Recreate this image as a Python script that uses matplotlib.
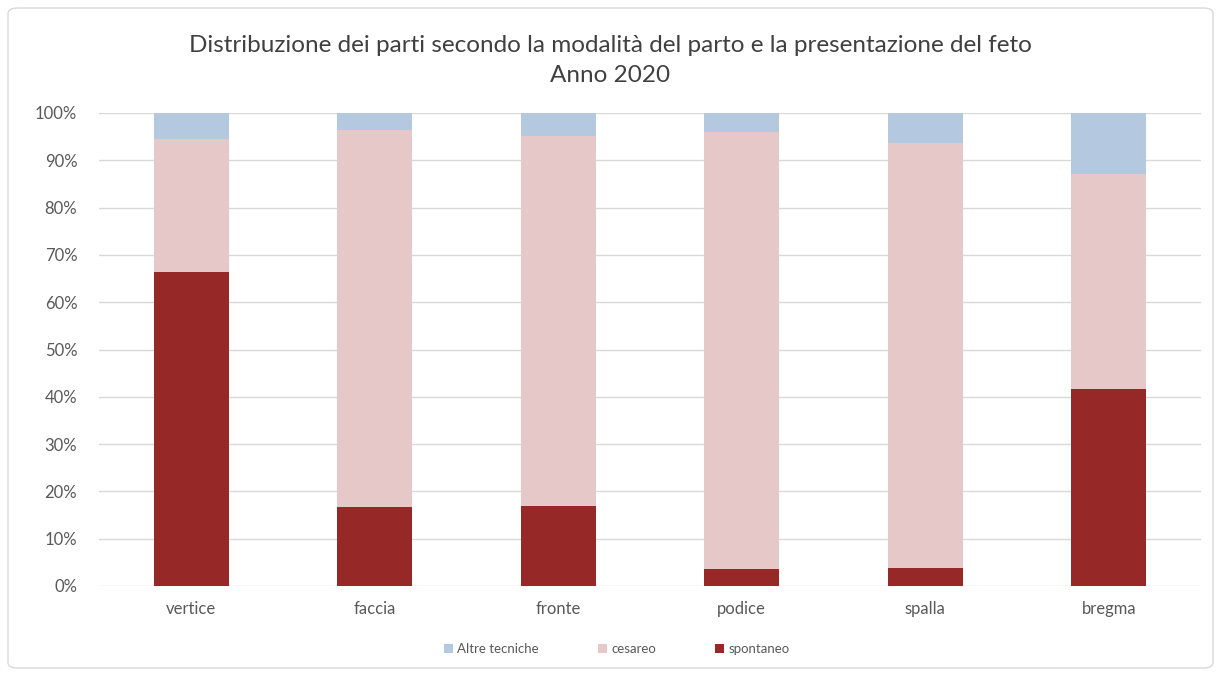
import matplotlib
matplotlib.use("Agg")
import matplotlib.pyplot as plt
from matplotlib.patches import FancyBboxPatch
from matplotlib.ticker import PercentFormatter
import numpy as np

plt.rcParams['font.family'] = ['Lato', 'DejaVu Sans']

categories = ["vertice", "faccia", "fronte", "podice", "spalla", "bregma"]
spontaneo = [66.3, 16.6, 17.0, 3.5, 3.9, 41.6]
cesareo = [28.3, 79.9, 78.1, 92.5, 89.7, 45.6]
altre = [5.4, 3.5, 4.9, 4.0, 6.4, 12.8]

c_spont = "#962828"
c_ces = "#E6C8C9"
c_altre = "#B4C9DF"

fig = plt.figure(figsize=(12.21, 6.76), dpi=100)
ax = fig.add_axes([99.5 / 1221, 1 - 586 / 676, 1101 / 1221, 473 / 676])

# chart border
fig.patches.append(FancyBboxPatch((8 / 1221, 8 / 676), 1205 / 1221, 660 / 676,
                                  boxstyle="round,pad=0,rounding_size=0.008",
                                  transform=fig.transFigure, fc="none",
                                  ec="#D9D9D9", lw=1.0))

x = np.arange(len(categories))
w = 0.41
b1 = ax.bar(x, spontaneo, w, color=c_spont, label="spontaneo", zorder=3)
b2 = ax.bar(x, cesareo, w, bottom=spontaneo, color=c_ces, label="cesareo", zorder=3)
bottom2 = np.array(spontaneo) + np.array(cesareo)
b3 = ax.bar(x, altre, w, bottom=bottom2, color=c_altre, label="Altre tecniche", zorder=3)

ax.set_xlim(-0.5, len(categories) - 0.5)
ax.set_ylim(0, 100)
ax.set_yticks(np.arange(0, 101, 10))
ax.yaxis.set_major_formatter(PercentFormatter(decimals=0))
ax.grid(axis="y", color="#D9D9D9", lw=1, zorder=0)
for s in ax.spines.values():
    s.set_visible(False)
ax.tick_params(axis="both", length=0, colors="#595959", labelsize=12)
ax.tick_params(axis="y", pad=16)
ax.tick_params(axis="x", pad=11)
ax.set_xticks(x)
ax.set_xticklabels(categories)

fig.text(0.5, 1 - 45 / 676, "Distribuzione dei parti secondo la modalità del parto e la presentazione del feto",
         ha="center", va="center", fontsize=17.5, color="#404040")
fig.text(0.5, 1 - 75 / 676, "Anno 2020", ha="center", va="center", fontsize=17.5, color="#404040")

fig.legend(handles=[b3, b2, b1], labels=["Altre tecniche", "cesareo", "spontaneo"],
           loc="center", bbox_to_anchor=(0.505, 1 - 649 / 676), ncol=3, frameon=False,
           handlelength=0.7, handleheight=0.7, handletextpad=0.3, columnspacing=4.5,
           fontsize=9.5, labelcolor="#595959")

fig.savefig("out.png", dpi=100)
